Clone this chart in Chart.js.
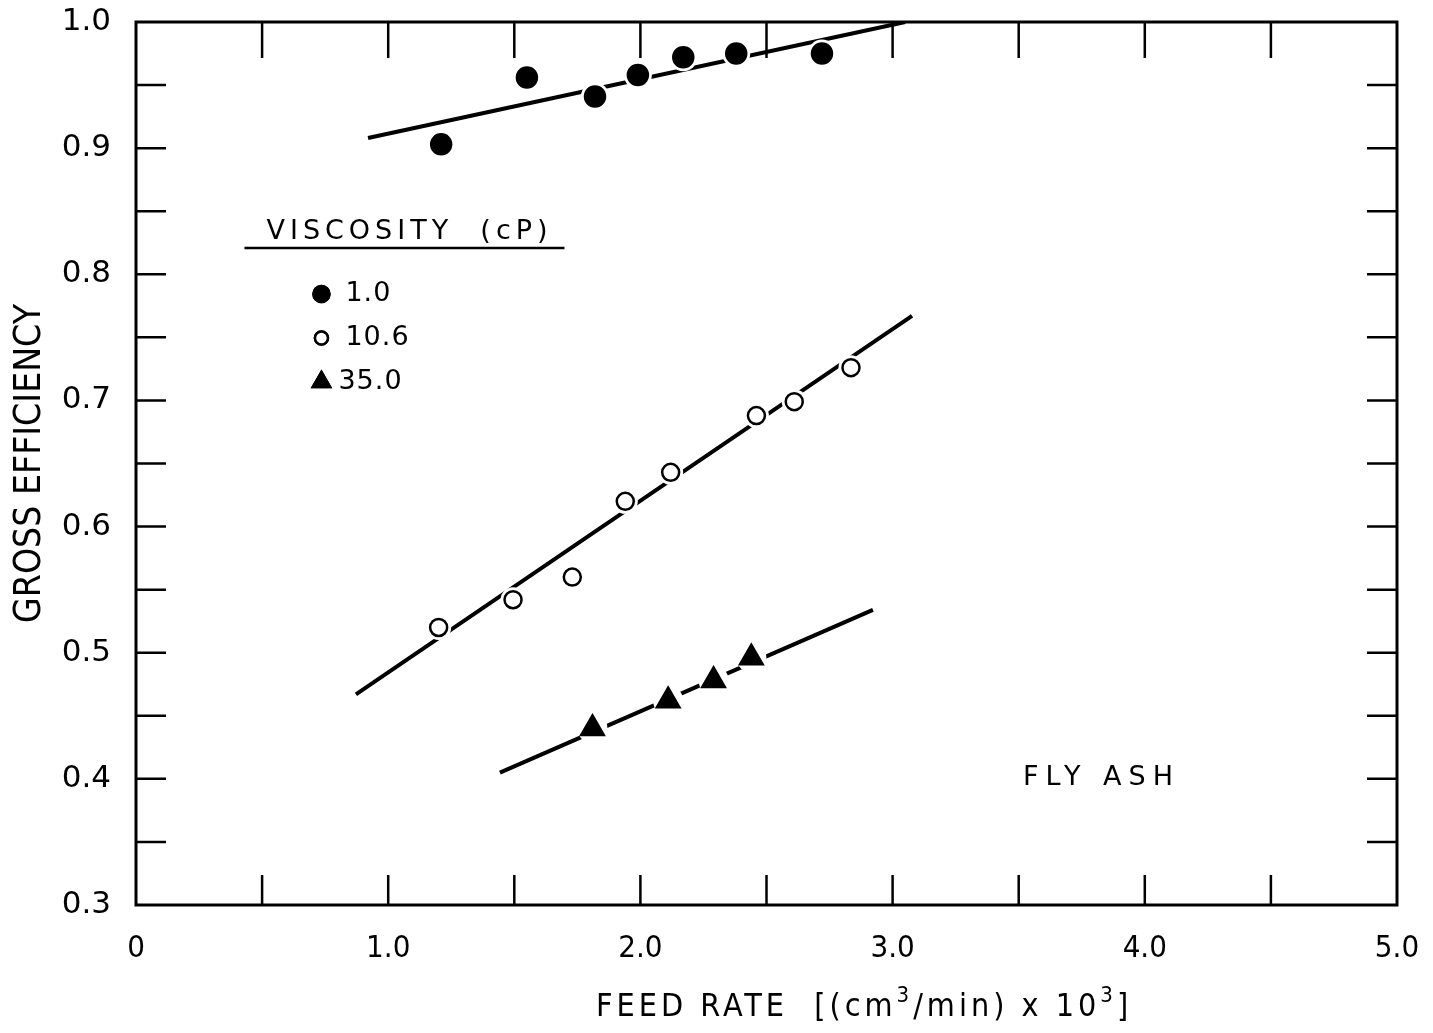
<!DOCTYPE html>
<html>
<head>
<meta charset="utf-8">
<script src="https://cdn.jsdelivr.net/npm/chart.js@4.4.1/dist/chart.umd.min.js"></script>
<style>
  html, body { margin: 0; padding: 0; background: #fff; }
  #wrap { width: 1433px; height: 1033px; }
</style>
</head>
<body>
<div id="wrap"><canvas id="chart"></canvas></div>
<script>
// viscosity 1.0 cP (filled circles)
const visc1X = [1.21, 1.55, 1.82, 1.99, 2.17, 2.38, 2.72];
const visc1Y = [0.903, 0.956, 0.941, 0.958, 0.972, 0.975, 0.975];
const fit1X = [0.92, 3.05];
const fit1Y = [0.908, 1.0];

// viscosity 10.6 cP (open circles)
const visc2X = [1.20, 1.495, 1.73, 1.94, 2.12, 2.46, 2.61, 2.835];
const visc2Y = [0.520, 0.542, 0.560, 0.620, 0.643, 0.688, 0.699, 0.726];
const fit2X = [0.872, 3.077];
const fit2Y = [0.467, 0.767];

// viscosity 35.0 cP (triangles)
const visc3X = [1.81, 2.11, 2.29, 2.44];
const visc3Y = [0.440, 0.462, 0.478, 0.496];
const fit3X = [1.443, 2.922];
const fit3Y = [0.405, 0.534];

const legendLabels = ["1.0", "10.6", "35.0"];
const xTickValues = [0, 1, 2, 3, 4, 5];
const yTickValues = [0.3, 0.4, 0.5, 0.6, 0.7, 0.8, 0.9, 1.0];

const narrow = "'Liberation Sans Narrow', 'DejaVu Sans Condensed', sans-serif";
const wide = "'DejaVu Sans', 'Liberation Sans', sans-serif";

function pts(xs, ys) {
  return xs.map((x, i) => ({ x: x, y: ys[i] }));
}

function markerSet(label, xs, ys, style, radius, fill) {
  return {
    label: label,
    data: pts(xs, ys),
    pointStyle: style,
    pointRadius: radius,
    pointHoverRadius: radius,
    pointBackgroundColor: fill,
    pointBorderColor: "#000",
    pointBorderWidth: 2.5,
    showLine: false,
    order: 0,
  };
}

// white discs under the markers so the fit lines break around them
function haloSet(xs, ys, radius) {
  return {
    label: "",
    data: pts(xs, ys),
    pointStyle: "circle",
    pointRadius: radius,
    pointHoverRadius: radius,
    pointBackgroundColor: "#fff",
    pointBorderWidth: 0,
    showLine: false,
    order: 1,
  };
}

function fitSet(xs, ys) {
  return {
    label: "",
    data: pts(xs, ys),
    showLine: true,
    borderColor: "#000",
    borderWidth: 4,
    pointRadius: 0,
    pointHoverRadius: 0,
    order: 2,
  };
}

const frame = {
  id: "frame",
  afterDatasetsDraw(chart) {
    const { ctx, chartArea: a, scales } = chart;
    ctx.save();
    ctx.strokeStyle = "#000";
    ctx.lineWidth = 3;
    ctx.strokeRect(a.left, a.top, a.right - a.left, a.bottom - a.top);
    ctx.lineWidth = 2.5;
    ctx.beginPath();
    scales.x.ticks.forEach((t) => {
      if (t.value <= 0 || t.value >= 5) return;
      const px = scales.x.getPixelForValue(t.value);
      ctx.moveTo(px, a.bottom);
      ctx.lineTo(px, a.bottom - 30);
      ctx.moveTo(px, a.top);
      ctx.lineTo(px, a.top + 36);
    });
    scales.y.ticks.forEach((t) => {
      if (t.value <= 0.3 || t.value >= 1.0) return;
      const py = scales.y.getPixelForValue(t.value);
      ctx.moveTo(a.left, py);
      ctx.lineTo(a.left + 30, py);
      ctx.moveTo(a.right, py);
      ctx.lineTo(a.right - 30, py);
    });
    ctx.stroke();
    ctx.restore();
  },
};

const notes = {
  id: "notes",
  afterDraw(chart) {
    const { ctx, scales } = chart;
    const x0 = scales.x.getPixelForValue(0.43);
    const y0 = scales.y.getPixelForValue(0.828);
    ctx.save();
    ctx.fillStyle = "#000";
    ctx.strokeStyle = "#000";
    ctx.textBaseline = "middle";
    ctx.font = "27px " + wide;
    ctx.letterSpacing = "5px";
    ctx.fillText("VISCOSITY  (cP)", x0 + 22, y0 - 7);
    ctx.lineWidth = 2.5;
    ctx.beginPath();
    ctx.moveTo(x0, y0 + 9);
    ctx.lineTo(x0 + 320, y0 + 9);
    ctx.stroke();

    ctx.font = "27px " + wide;
    ctx.letterSpacing = "1px";
    const styles = [
      ["circle", true, 8],
      ["circle", false, 6.5],
      ["triangle", true, 10],
    ];
    legendLabels.forEach((lab, i) => {
      const cy = y0 + 55 + i * 44;
      const cx = x0 + 77;
      const [style, filled, r] = styles[i];
      ctx.fillStyle = filled ? "#000" : "#fff";
      ctx.lineWidth = 2.5;
      Chart.helpers.drawPoint(ctx, { pointStyle: style, radius: r, borderWidth: 2.5 }, cx, cy);
      ctx.fill();
      ctx.stroke();
      ctx.fillStyle = "#000";
      ctx.fillText(lab, cx + (i === 2 ? 17 : 24), cy);
    });

    ctx.font = "27px " + wide;
    ctx.letterSpacing = "7px";
    ctx.fillText("FLY ASH", scales.x.getPixelForValue(3.517), scales.y.getPixelForValue(0.401));

    // x axis title, with real superscripts
    ctx.letterSpacing = "4px";
    const mainFont = "32px " + narrow;
    const supFont = "22px " + narrow;
    const parts = [
      ["FEED RATE  [(cm", false],
      ["3", true],
      ["/min) x 10", false],
      ["3", true],
      ["]", false],
    ];
    let tx = 596;
    const ty = 1008;
    parts.forEach(([s, sup]) => {
      ctx.font = sup ? supFont : mainFont;
      ctx.fillText(s, tx, sup ? ty - 12 : ty);
      tx += ctx.measureText(s).width;
    });
    ctx.restore();
  },
};

new Chart(document.getElementById("chart"), {
  type: "scatter",
  data: {
    datasets: [
      markerSet("1.0", visc1X, visc1Y, "circle", 10, "#000"),
      markerSet("10.6", visc2X, visc2Y, "circle", 8.5, "#fff"),
      markerSet("35.0", visc3X, visc3Y, "triangle", 13, "#000"),
      haloSet(visc1X, visc1Y, 14),
      haloSet(visc2X, visc2Y, 12.5),
      haloSet(visc3X, visc3Y, 15),
      fitSet(fit1X, fit1Y),
      fitSet(fit2X, fit2Y),
      fitSet(fit3X, fit3Y),
    ],
  },
  options: {
    responsive: true,
    maintainAspectRatio: false,
    animation: false,
    events: [],
    layout: {
      padding: { top: 22, right: 36, left: 0, bottom: 0 },
    },
    plugins: {
      legend: { display: false },
      tooltip: { enabled: false },
    },
    scales: {
      x: {
        type: "linear",
        min: 0,
        max: 5,
        afterFit: (scale) => {
          scale.height = 128;
          scale.paddingLeft = 0;
          scale.paddingRight = 0;
        },
        grid: { display: false, drawTicks: false },
        border: { display: false },
        ticks: {
          stepSize: 0.5,
          autoSkip: false,
          maxRotation: 0,
          padding: 25,
          color: "#000",
          font: { family: narrow, size: 31 },
          callback: function (value) {
            if (!xTickValues.includes(value)) return "";
            return value === 0 ? "0" : value.toFixed(1);
          },
        },
        title: { display: false },
      },
      y: {
        type: "linear",
        min: 0.3,
        max: 1.0,
        afterFit: (scale) => {
          scale.width = 136;
          scale.paddingTop = 0;
          scale.paddingBottom = 0;
        },
        grid: { display: false, drawTicks: false },
        border: { display: false },
        ticks: {
          stepSize: 0.05,
          autoSkip: false,
          padding: 25,
          color: "#000",
          font: { family: wide, size: 31 },
          callback: function (value) {
            const hit = yTickValues.some((v) => Math.abs(v - value) < 1e-6);
            return hit ? value.toFixed(1) : "";
          },
        },
        title: {
          display: true,
          text: "GROSS EFFICIENCY",
          color: "#000",
          font: { family: narrow, size: 37 },
          padding: { top: 8, bottom: 0 },
        },
      },
    },
  },
  plugins: [frame, notes],
});
</script>
</body>
</html>
